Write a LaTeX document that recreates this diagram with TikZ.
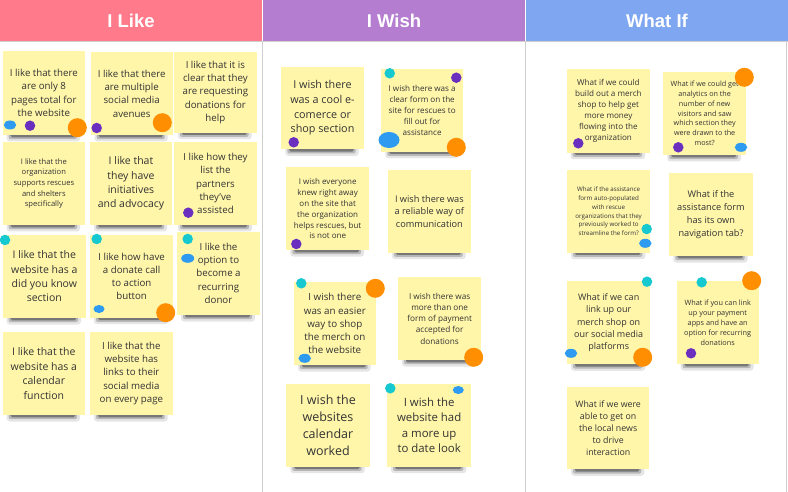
\documentclass[tikz,border=0pt]{standalone}
\usepackage{fontspec}
\setmainfont{Open Sans}
\newfontfamily\headfont{Liberation Sans}
\usetikzlibrary{shapes.geometric}
\definecolor{likehead}{HTML}{FF7A8A}
\definecolor{wishhead}{HTML}{B47DD0}
\definecolor{ifhead}{HTML}{7FA6F1}
\definecolor{noteyellow}{HTML}{FFF6AA}
\definecolor{notetext}{HTML}{333333}
\definecolor{dotcyan}{HTML}{16C8CF}
\definecolor{dotblue}{HTML}{2F9BF0}
\definecolor{dotpurple}{HTML}{6B2FBF}
\definecolor{dotorange}{HTML}{FF8F00}
\definecolor{sepgrey}{HTML}{CFCFCF}
\tikzset{
  sticky/.style={fill=noteyellow,inner sep=0pt,align=center,text=notetext},
  header/.style={font=\headfont\bfseries\fontsize{18.5}{20}\selectfont,text=white},
  dotc/.style={circle,fill=dotcyan,inner sep=0pt,minimum size=10.5},
  dotp/.style={circle,fill=dotpurple,inner sep=0pt,minimum size=10.5},
  doto/.style={circle,fill=dotorange,inner sep=0pt,minimum size=19},
  dotb/.style={ellipse,fill=dotblue,inner sep=0pt,minimum width=12.5,minimum height=9},
  dotbig/.style={ellipse,fill=dotblue,inner sep=0pt,minimum width=21,minimum height=16},
}
\newcommand\stickynote[8]{%
  \fill[black,opacity=.10,rounded corners=3pt] ({#2+4},{#5-3}) rectangle ({#4-5},{#5+6.5});
  \fill[black,opacity=.20,rounded corners=2pt] ({#2+6},{#5-3}) rectangle ({#4-8},{#5+4.2});
  \fill[black,opacity=.35,rounded corners=1.5pt] ({#2+8},{#5-3}) rectangle ({#4-10},{#5+2.3});
  \node[sticky,minimum width={#4-#2},minimum height={#5-#3},font={\fontsize{#6}{#7}\selectfont}] (#1) at ({(#2+#4)/2},{(#3+#5)/2}) {#8};%
}
\begin{document}
\begin{tikzpicture}[x=1pt,y=-1pt]
\useasboundingbox (0,0) rectangle (788,492);
\fill[white] (0,0) rectangle (788,492);
% headers
\fill[likehead] (0,0) rectangle (262,41);
\fill[wishhead] (263,0) rectangle (525,41);
\fill[ifhead] (526,0) rectangle (788,41);
\node[header] (hlike) at (131,20.5) {I Like};
\node[header] (hwish) at (394,20.5) {I Wish};
\node[header] (hif) at (657,20.5) {What If};
\draw[sepgrey,line width=1pt] (0,41.8) -- (788,41.8);
\draw[sepgrey,line width=1pt] (262.3,41) -- (262.3,492);
\draw[sepgrey,line width=1pt] (525.3,41) -- (525.3,492);
\draw[sepgrey,line width=1pt] (786.5,41) -- (786.5,492);
% I Like
\stickynote{L1}{2.7}{51}{85}{135}{9.7}{13.3}{I like that there\\are only 8\\pages total for\\the website}
\stickynote{L2}{90.7}{52}{172.7}{135}{9.7}{13.3}{I like that there\\are multiple\\social media\\avenues}
\stickynote{L3}{174}{51.7}{256.7}{132.7}{9.7}{13.3}{I like that it is\\clear that they\\are requesting\\donations for\\help}
\stickynote{L4}{2.7}{142}{85}{225}{7.6}{10.7}{I like that the\\organization\\supports rescues\\and shelters\\specifically}
\stickynote{L5}{90}{142}{172}{225}{10.5}{14.3}{I like that\\they have\\initiatives\\and advocacy}
\stickynote{L6}{174}{142}{257}{225}{9.7}{13.2}{I like how they\\list the\\partners\\they've\\assisted}
\stickynote{L7}{2.7}{235}{86}{318}{10.5}{14.3}{I like that the\\website has a\\did you know\\section}
\stickynote{L8}{90}{235}{173.3}{317.7}{9.7}{13.1}{I like how have\\a donate call\\to action\\button}
\stickynote{L9}{177}{231.7}{260}{315}{9.7}{13.3}{I like the\\option to\\become a\\recurring\\donor}
\stickynote{L10}{2.7}{332}{85}{415}{10.5}{14.4}{I like that the\\website has a\\calendar\\function}
\stickynote{L11}{90}{331.7}{172.7}{415}{9.7}{13.3}{I like that the\\website has\\links to their\\social media\\on every page}
% I Wish
\stickynote{W1}{281.3}{66.7}{363.7}{149.3}{10.8}{14.7}{I wish there\\was a cool e-\\comerce or\\shop section}
\stickynote{W2}{381.3}{69.3}{463}{151.7}{8.1}{11}{I wish there was a\\clear form on the\\site for rescues to\\fill out for\\assistance}
\stickynote{W3}{286.3}{167.3}{369}{250}{8}{10.9}{I wish everyone\\knew right away\\on the site that\\the organization\\helps rescues, but\\is not one}
\stickynote{W4}{388}{170}{470.7}{252.7}{9.2}{12.3}{I wish there was\\a reliable way of\\communication}
\stickynote{W5}{294}{282.3}{375.7}{365}{9.8}{13.3}{I wish there\\was an easier\\way to shop\\the merch on\\the website}
\stickynote{W6}{398}{277.3}{481.3}{360}{8.2}{11.2}{I wish there was\\more than one\\form of payment\\accepted for\\donations}
\stickynote{W7}{286.3}{384}{369.7}{466.7}{12.5}{17}{I wish the\\websites\\calendar\\worked}
\stickynote{W8}{387}{384}{471.3}{466.7}{11.4}{15.5}{I wish the\\website had\\a more up\\to date look}
% What If
\stickynote{F1}{566.7}{69.3}{650}{152.7}{8.1}{11}{What if we could\\build out a merch\\shop to help get\\more money\\flowing into the\\organization}
\stickynote{F2}{663.3}{71.7}{746}{155}{7.2}{9.8}{What if we could get\\analytics on the\\number of new\\visitors and saw\\which section they\\were drawn to the\\most?}
\stickynote{F3}{567}{170}{650.3}{252.7}{6.2}{8.7}{What if the assistance\\form auto-populated\\with rescue\\organizations that they\\previously worked to\\streamline the form?}
\stickynote{F4}{669.3}{173.3}{752.7}{256}{9.2}{12.8}{What if the\\assistance form\\has its own\\navigation tab?}
\stickynote{F5}{567}{281}{650.3}{364.3}{9}{12.3}{What if we can\\link up our\\merch shop on\\our social media\\platforms}
\stickynote{F6}{676.7}{280.7}{758.7}{364}{7.3}{10}{What if you can link\\up your payment\\apps and have an\\option for recurring\\donations}
\stickynote{F7}{567}{386.7}{649.3}{469.3}{8.8}{12}{What if we were\\able to get on\\the local news\\to drive\\interaction}
% dots
\node[dotb] (dL1a) at (10,125) {};
\node[dotp] (dL1b) at (30,125.7) {};
\node[doto] (dL1c) at (77.3,127.7) {};
\node[dotp] (dL2a) at (96.7,128) {};
\node[doto] (dL2b) at (162.3,122.7) {};
\node[dotp] (dL6a) at (188.3,212.7) {};
\node[dotc] (dL7a) at (5,240) {};
\node[dotc] (dL8a) at (96.7,239) {};
\node[dotb,minimum width=11,minimum height=8] (dL8b) at (99,309) {};
\node[doto] (dL8c) at (165.7,312.7) {};
\node[dotc] (dL9a) at (187.7,239) {};
\node[dotb,minimum width=13] (dL9b) at (187.7,258.3) {};
\node[dotp] (dW1a) at (293.7,142.3) {};
\node[dotc] (dW2a) at (389.7,73.3) {};
\node[dotp] (dW2b) at (456.3,77.7) {};
\node[dotbig] (dW2c) at (389,140) {};
\node[doto] (dW2d) at (456.3,147.3) {};
\node[dotp] (dW3a) at (296.3,244) {};
\node[dotc] (dW5a) at (301.3,283.3) {};
\node[doto] (dW5b) at (375.3,288.3) {};
\node[dotb] (dW5c) at (304.7,358.3) {};
\node[doto] (dW6a) at (473.7,357.3) {};
\node[dotc] (dW8a) at (390.3,388.3) {};
\node[dotb,minimum width=11,minimum height=8] (dW8b) at (458.3,390) {};
\node[dotp] (dF1a) at (578.3,143.3) {};
\node[doto] (dF2a) at (744.3,77.3) {};
\node[dotp] (dF2b) at (678.3,147.3) {};
\node[dotb] (dF2c) at (741,147.3) {};
\node[dotc] (dF3a) at (646.7,229) {};
\node[dotb] (dF3b) at (645.3,243.3) {};
\node[dotc] (dF5a) at (647,281.7) {};
\node[dotb] (dF5b) at (571,353.3) {};
\node[doto] (dF5c) at (642.7,357.3) {};
\node[dotc] (dF6a) at (701.7,282.3) {};
\node[doto] (dF6b) at (751.7,280.7) {};
\node[dotp] (dF6c) at (691,353.3) {};
\end{tikzpicture}
\end{document}
